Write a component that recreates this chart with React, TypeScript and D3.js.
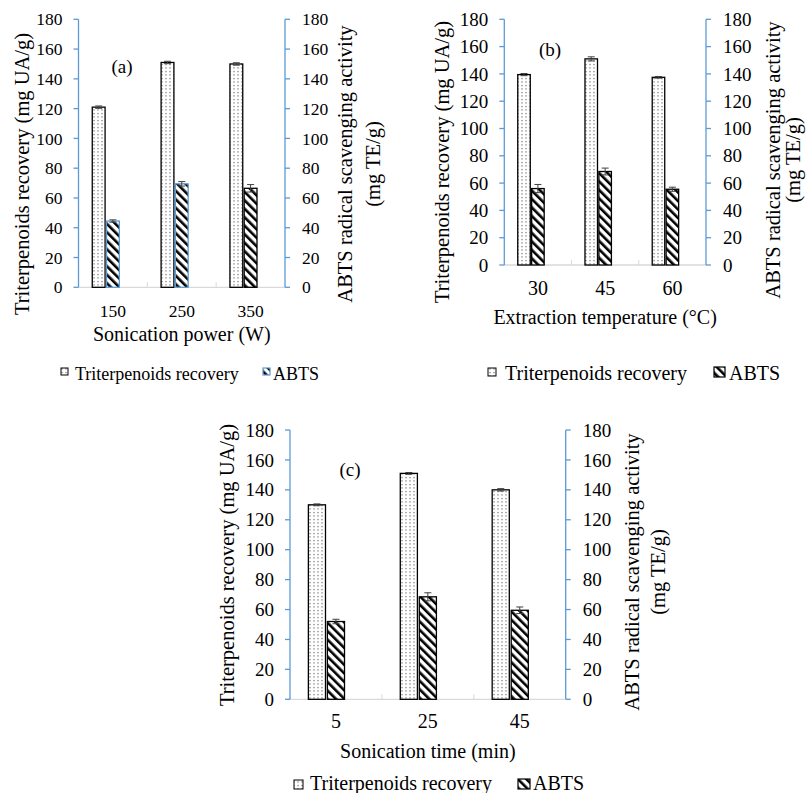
import React from 'react';
import * as d3 from 'd3';

// Panel (a): sonication power
const powerCats = ['150', '250', '350'];
const powerTri = [121, 151, 150];
const powerTriErr = [0.8, 0.8, 0.8];
const powerAbts = [44.5, 69.5, 66.5];
const powerAbtsErr = [0.8, 1.5, 2.5];

// Panel (b): extraction temperature
const tempCats = ['30', '45', '60'];
const tempTri = [139.5, 151, 137.5];
const tempTriErr = [0.8, 1.5, 0.6];
const tempAbts = [56, 68.5, 55.5];
const tempAbtsErr = [3, 2.5, 1.5];

// Panel (c): sonication time
const timeCats = ['5', '25', '45'];
const timeTri = [130, 151, 140];
const timeTriErr = [0.6, 0.6, 0.8];
const timeAbts = [52, 68.5, 59.5];
const timeAbtsErr = [1.5, 2.7, 2.2];

const yTicks = [0, 20, 40, 60, 80, 100, 120, 140, 160, 180];
const seriesKeys = ['tri', 'abts', 'blank'];

const BLUE = '#5B9BD5';
const FONT = 'Liberation Serif';

type PanelProps = {
  cats: string[]; tri: number[]; triErr: number[]; abts: number[]; abtsErr: number[];
  left: number; right: number; top: number; bottom: number;
  tickFont: number; catFont: number; catBaseline: number;
  xTitle: string; xTitleY: number; xTitleFont: number;
  leftTitleX: number; leftTitleY: number; titleFont: number;
  rightTitleX1: number; rightTitleX2: number; rightTitleY: number;
  letter: string; letterX: number; letterY: number; letterFont: number;
  legendY: number; legendFont: number;
  triSw: number[]; triTextX: number; abtsSw: number[]; abtsTextX: number;
  abtsStroke: string[]; abtsLegendStroke: string;
};

function T(props: any) {
  const { children, ...rest } = props;
  return <text fontFamily={FONT} fill="#000" {...rest} style={{ fontFamily: FONT }}>{children}</text>;
}

function Panel(p: PanelProps) {
  const y = d3.scaleLinear().domain([0, 180]).range([p.bottom, p.top]);
  const x0 = d3.scaleBand<string>().domain(p.cats).range([p.left, p.right]);
  const bw = x0.bandwidth();
  const x1 = d3.scaleBand<string>().domain(seriesKeys).range([bw * 0.2, bw * 0.8]).paddingInner(0.1);
  const cx = (p.left + p.right) / 2;
  const errBar = (xc: number, v: number, e: number, key: string) => (
    <g key={key} stroke="#404040" strokeWidth={1}>
      <line x1={xc} x2={xc} y1={y(v - e)} y2={y(v + e)} />
      <line x1={xc - 3.5} x2={xc + 3.5} y1={y(v + e)} y2={y(v + e)} />
      <line x1={xc - 3.5} x2={xc + 3.5} y1={y(v - e)} y2={y(v - e)} />
    </g>
  );
  return (
    <g>
      {/* bottom axis */}
      <line x1={p.left} x2={p.right} y1={p.bottom} y2={p.bottom} stroke="#D9D9D9" strokeWidth={1.3} />
      {p.cats.slice(1).map((c) => (
        <line key={'bt' + c} x1={x0(c)!} x2={x0(c)!} y1={p.bottom} y2={p.bottom - 5} stroke="#D9D9D9" strokeWidth={1} />
      ))}
      {/* bars */}
      {p.cats.map((c, i) => {
        const xt = x0(c)! + x1('tri')!;
        const xa = x0(c)! + x1('abts')!;
        const w = x1.bandwidth();
        return (
          <g key={'bar' + c}>
            <rect x={xt} y={y(p.tri[i])} width={w} height={p.bottom - y(p.tri[i])} fill="url(#dots)" stroke="#000" strokeWidth={1.3} />
            <rect x={xa} y={y(p.abts[i])} width={w} height={p.bottom - y(p.abts[i])} fill="url(#hatch)" stroke={p.abtsStroke[i]} strokeWidth={1.3} />
            {errBar(xt + w / 2, p.tri[i], p.triErr[i], 'et' + c)}
            {errBar(xa + w / 2, p.abts[i], p.abtsErr[i], 'ea' + c)}
          </g>
        );
      })}
      {/* left axis */}
      <line x1={p.left} x2={p.left} y1={p.top} y2={p.bottom} stroke={BLUE} strokeWidth={1.3} />
      {yTicks.map((t) => (
        <g key={'lt' + t}>
          <line x1={p.left - 5} x2={p.left} y1={y(t)} y2={y(t)} stroke={BLUE} strokeWidth={1.3} />
          <T x={p.left - 16} y={y(t)} dy="0.35em" textAnchor="end" fontSize={p.tickFont}>{t}</T>
        </g>
      ))}
      {/* right axis */}
      <line x1={p.right} x2={p.right} y1={p.top} y2={p.bottom} stroke={BLUE} strokeWidth={1.3} />
      {yTicks.map((t) => (
        <g key={'rt' + t}>
          <line x1={p.right} x2={p.right + 5} y1={y(t)} y2={y(t)} stroke={BLUE} strokeWidth={1.3} />
          <T x={p.right + 17} y={y(t)} dy="0.35em" textAnchor="start" fontSize={p.tickFont}>{t}</T>
        </g>
      ))}
      {/* category labels */}
      {p.cats.map((c) => (
        <T key={'cl' + c} x={x0(c)! + bw / 2} y={p.catBaseline} textAnchor="middle" fontSize={p.catFont}>{c}</T>
      ))}
      <T x={cx} y={p.xTitleY} textAnchor="middle" fontSize={p.xTitleFont}>{p.xTitle}</T>
      <T transform={`translate(${p.leftTitleX},${p.leftTitleY}) rotate(-90)`} textAnchor="middle" dominantBaseline="central" fontSize={p.titleFont}>Triterpenoids recovery (mg UA/g)</T>
      <T transform={`translate(${p.rightTitleX1},${p.rightTitleY}) rotate(-90)`} textAnchor="middle" dominantBaseline="central" fontSize={p.titleFont}>ABTS radical scavenging activity</T>
      <T transform={`translate(${p.rightTitleX2},${p.rightTitleY}) rotate(-90)`} textAnchor="middle" dominantBaseline="central" fontSize={p.titleFont}>(mg TE/g)</T>
      <T x={p.letterX} y={p.letterY} textAnchor="middle" fontSize={p.letterFont}>{p.letter}</T>
      {/* legend */}
      <rect x={p.triSw[0]} y={p.triSw[1]} width={p.triSw[2]} height={p.triSw[3]} fill="url(#dots)" stroke="#000" strokeWidth={1} />
      <T x={p.triTextX} y={p.legendY} fontSize={p.legendFont}>Triterpenoids recovery</T>
      <rect x={p.abtsSw[0]} y={p.abtsSw[1]} width={p.abtsSw[2]} height={p.abtsSw[3]} fill="url(#hatch)" stroke={p.abtsLegendStroke} strokeWidth={1.2} />
      <T x={p.abtsTextX} y={p.legendY} fontSize={p.legendFont}>ABTS</T>
    </g>
  );
}

export default function App() {
  return (
    <svg width={807} height={793} style={{ position: 'absolute', left: 0, top: 0, background: '#fff', fontFamily: FONT }}>
      <defs>
        <pattern id="dots" patternUnits="userSpaceOnUse" width={4} height={3.5}>
          <rect width={4} height={3.5} fill="#fff" />
          <rect x={1.5} y={1} width={1} height={1} fill="#222" />
        </pattern>
        <pattern id="hatch" patternUnits="userSpaceOnUse" width={6} height={6} patternTransform="rotate(-45)">
          <rect width={6} height={6} fill="#fff" />
          <rect x={0} y={0} width={2.6} height={6} fill="#000" />
        </pattern>
      </defs>
      <rect width={807} height={793} fill="#fff" />
      <Panel
        cats={powerCats} tri={powerTri} triErr={powerTriErr} abts={powerAbts} abtsErr={powerAbtsErr}
        left={78.5} right={285} top={19.3} bottom={287.3}
        tickFont={17.5} catFont={17.5} catBaseline={317}
        xTitle="Sonication power (W)" xTitleY={341} xTitleFont={20}
        leftTitleX={22} leftTitleY={174} titleFont={20.5}
        rightTitleX1={345} rightTitleX2={373} rightTitleY={164}
        letter="(a)" letterX={122} letterY={73} letterFont={19}
        legendY={380} legendFont={18}
        triSw={[61, 368, 7, 7]} triTextX={75} abtsSw={[263, 368, 7, 7]} abtsTextX={273}
        abtsStroke={[BLUE, BLUE, '#000']} abtsLegendStroke={BLUE}
      />
      <Panel
        cats={tempCats} tri={tempTri} triErr={tempTriErr} abts={tempAbts} abtsErr={tempAbtsErr}
        left={504.3} right={706} top={19.3} bottom={265}
        tickFont={19} catFont={20} catBaseline={295}
        xTitle="Extraction temperature (°C)" xTitleY={324} xTitleFont={20}
        leftTitleX={442} leftTitleY={162} titleFont={20.5}
        rightTitleX1={773} rightTitleX2={793} rightTitleY={160}
        letter="(b)" letterX={550} letterY={56} letterFont={19}
        legendY={380} legendFont={20}
        triSw={[488, 368, 8, 8]} triTextX={505} abtsSw={[714, 367, 11, 10]} abtsTextX={729}
        abtsStroke={['#000', '#000', '#000']} abtsLegendStroke="#000"
      />
      <Panel
        cats={timeCats} tri={timeTri} triErr={timeTriErr} abts={timeAbts} abtsErr={timeAbtsErr}
        left={290} right={565.7} top={430} bottom={699.3}
        tickFont={19} catFont={20} catBaseline={728}
        xTitle="Sonication time (min)" xTitleY={758} xTitleFont={20}
        leftTitleX={227} leftTitleY={565} titleFont={20.5}
        rightTitleX1={632} rightTitleX2={658} rightTitleY={572}
        letter="(c)" letterX={350} letterY={476} letterFont={19}
        legendY={790} legendFont={20}
        triSw={[294, 780, 9, 9]} triTextX={310} abtsSw={[518, 779, 12, 10]} abtsTextX={533}
        abtsStroke={['#000', '#000', '#000']} abtsLegendStroke="#000"
      />
    </svg>
  );
}
